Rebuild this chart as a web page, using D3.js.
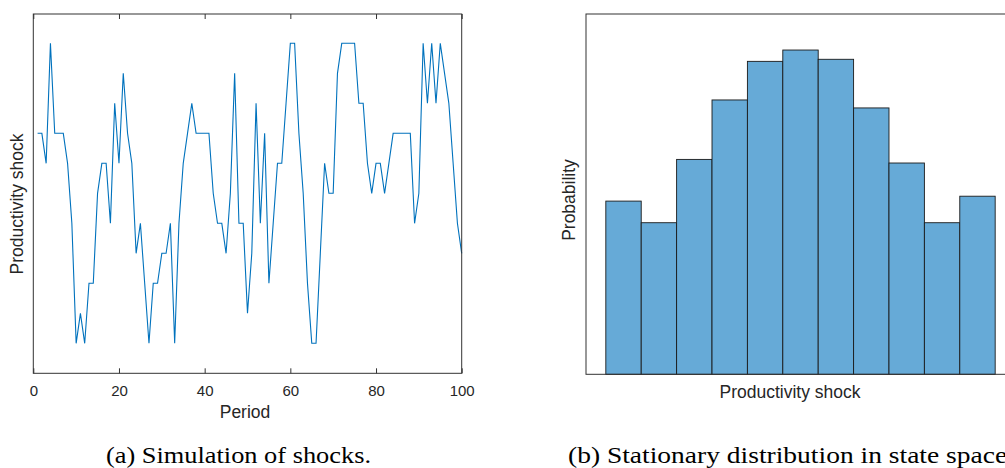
<!DOCTYPE html>
<html>
<head>
<meta charset="utf-8">
<script src="https://cdn.jsdelivr.net/npm/d3@7"></script>
<style>
  body { margin: 0; background: #fff; }
  svg { display: block; }
  .tick text { font-family: "Liberation Sans", Arial, sans-serif; font-size: 15px; fill: #262626; }
  .label { font-family: "Liberation Sans", Arial, sans-serif; font-size: 17.5px; fill: #262626; }
  .caption { font-family: "Liberation Serif", "Times New Roman", serif; font-size: 23px; fill: #000; }
</style>
</head>
<body>
<svg id="chart" width="1005" height="468"></svg>
<script>
// shock state (grid index 1..11) for periods 1..100
const shockSeries = [
  8, 8, 7, 11, 8, 8, 8, 7, 5, 1,
  2, 1, 3, 3, 6, 7, 7, 5, 9, 7,
  10, 8, 7, 4, 5, 3, 1, 3, 3, 4,
  4, 5, 1, 5, 7, 8, 9, 8, 8, 8,
  8, 6, 5, 5, 4, 6, 10, 5, 5, 2,
  4, 9, 5, 8, 3, 5, 7, 7, 9, 11,
  11, 8, 6, 3, 1, 1, 4, 7, 6, 6,
  10, 11, 11, 11, 11, 9, 9, 7, 6, 7,
  7, 6, 7, 8, 8, 8, 8, 8, 5, 6,
  11, 9, 11, 9, 11, 10, 9, 7, 5, 4
];
const periodTicks = [0, 20, 40, 60, 80, 100];

// stationary distribution over the 11 grid points
const stateGrid = [1, 2, 3, 4, 5, 6, 7, 8, 9, 10, 11];
const stationaryProb = [0.0673, 0.0589, 0.0835, 0.1066, 0.1216, 0.1260, 0.1224, 0.1035, 0.0821, 0.0589, 0.0692];

const captionA = "(a) Simulation of shocks.";
const captionB = "(b) Stationary distribution in state space.";

const svg = d3.select("#chart");
const axisColor = "#333";

// ---------- (a) simulated path ----------
const left = { x0: 33.3, x1: 461.7, y0: 14, y1: 373.3 };

const xA = d3.scaleLinear().domain([0, 100]).range([left.x0, left.x1]);
const yA = d3.scaleLinear().domain([0, 12]).range([left.y1, left.y0 - 0.7]);

const gA = svg.append("g");

gA.append("path")
    .datum(shockSeries)
    .attr("fill", "none")
    .attr("stroke", "#0072BD")
    .attr("stroke-width", 1.1)
    .attr("stroke-linejoin", "miter")
    .attr("d", d3.line()
        .x((d, i) => xA(i + 1))
        .y(d => yA(d)));

// frame
gA.append("rect")
    .attr("x", left.x0)
    .attr("y", left.y0)
    .attr("width", left.x1 - left.x0)
    .attr("height", left.y1 - left.y0)
    .attr("fill", "none")
    .attr("stroke", axisColor)
    .attr("stroke-width", 1);

const bottomAxis = gA.append("g")
    .attr("transform", "translate(0," + left.y1 + ")")
    .call(d3.axisBottom(xA).tickValues(periodTicks).tickSizeInner(-5).tickSizeOuter(0).tickPadding(12));
bottomAxis.select(".domain").remove();
bottomAxis.selectAll(".tick line").attr("stroke", axisColor);

const topAxis = gA.append("g")
    .attr("transform", "translate(0," + left.y0 + ")")
    .call(d3.axisTop(xA).tickValues(periodTicks).tickSizeInner(-5).tickSizeOuter(0).tickFormat(""));
topAxis.select(".domain").remove();
topAxis.selectAll(".tick line").attr("stroke", axisColor);

gA.append("text")
    .attr("class", "label")
    .attr("x", 245)
    .attr("y", 417.5)
    .attr("text-anchor", "middle")
    .text("Period");

gA.append("text")
    .attr("class", "label")
    .attr("transform", "translate(23,204) rotate(-90)")
    .attr("text-anchor", "middle")
    .text("Productivity shock");

// ---------- (b) stationary distribution ----------
const right = { x0: 586, x1: 1015, y0: 14, y1: 374.3 };

const xB = d3.scaleLinear().domain([-0.06, 12.06]).range([right.x0, right.x1]);
const yB = d3.scaleLinear().domain([0, 0.14]).range([right.y1, right.y0]);

const gB = svg.append("g");

gB.selectAll(".bar")
    .data(stateGrid)
    .enter()
    .append("rect")
    .attr("class", "bar")
    .attr("x", d => xB(d - 0.5))
    .attr("width", d => xB(d + 0.5) - xB(d - 0.5))
    .attr("y", (d, i) => yB(stationaryProb[i]))
    .attr("height", (d, i) => yB(0) - yB(stationaryProb[i]))
    .attr("fill", "#66AAD7")
    .attr("stroke", "#1a1a1a")
    .attr("stroke-width", 0.9);

gB.append("rect")
    .attr("x", right.x0)
    .attr("y", right.y0)
    .attr("width", right.x1 - right.x0)
    .attr("height", right.y1 - right.y0)
    .attr("fill", "none")
    .attr("stroke", axisColor)
    .attr("stroke-width", 1);

gB.append("text")
    .attr("class", "label")
    .attr("x", 790)
    .attr("y", 398)
    .attr("text-anchor", "middle")
    .text("Productivity shock");

gB.append("text")
    .attr("class", "label")
    .attr("transform", "translate(575,200) rotate(-90)")
    .attr("text-anchor", "middle")
    .text("Probability");

// ---------- captions ----------
svg.append("text")
    .attr("class", "caption")
    .attr("x", 106)
    .attr("y", 463)
    .attr("textLength", 265)
    .attr("lengthAdjust", "spacingAndGlyphs")
    .text(captionA);

svg.append("text")
    .attr("class", "caption")
    .attr("x", 568)
    .attr("y", 463)
    .attr("textLength", 446)
    .attr("lengthAdjust", "spacingAndGlyphs")
    .text(captionB);
</script>
</body>
</html>
